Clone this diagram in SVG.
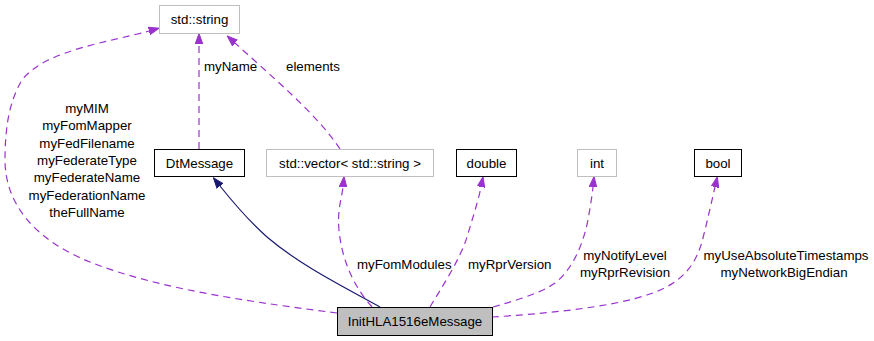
<svg xmlns="http://www.w3.org/2000/svg" width="874" height="341" viewBox="0 0 874 341">
<style>
text{font-family:"Liberation Sans",Arial,sans-serif;font-size:13.3px;fill:#000}
.n{text-anchor:middle}
.box{fill:#fff;stroke:#000;stroke-width:1}
.gbox{fill:#fff;stroke:#bfbfbf;stroke-width:1}
.main{fill:#bfbfbf;stroke:#000;stroke-width:1}
.dep{fill:none;stroke:#9a32cd;stroke-width:1.2;stroke-dasharray:7,5}
.inh{fill:none;stroke:#191970;stroke-width:1.2}
</style>
<defs>
<marker id="ap" markerUnits="userSpaceOnUse" markerWidth="11" markerHeight="9" viewBox="0 -4.5 11 9" refX="0" refY="0" orient="auto"><path d="M0,-3.8 L10.5,0 L0,3.8 z" fill="#9a32cd" stroke="#9a32cd" stroke-width="1"/></marker>
<marker id="an" markerUnits="userSpaceOnUse" markerWidth="11" markerHeight="9" viewBox="0 -4.5 11 9" refX="0" refY="0" orient="auto"><path d="M0,-3.8 L10.5,0 L0,3.8 z" fill="#191970" stroke="#191970" stroke-width="1"/></marker>
</defs>
<g id="connectors">
<path class="dep" marker-end="url(#ap)" d="M337,313 C260,303 160,290 90,262 C30,238 5,200 5,160 C5,125 10,100 22,80 C45,50 110,42 149,31"/>
<path class="dep" marker-end="url(#ap)" d="M199,149 L199,44"/>
<path class="dep" marker-end="url(#ap)" d="M340,149 C318,115 270,75 235,43"/>
<path class="inh" marker-end="url(#an)" d="M380,307 C340,285 300,265 267,237 C250,222 232,201 220,186"/>
<path class="dep" marker-end="url(#ap)" d="M372,307 C355,288 342,262 339,230 C337,210 342,197 343,187"/>
<path class="dep" marker-end="url(#ap)" d="M430,307 C440,290 460,260 467,237 C472,220 478,202 481,187"/>
<path class="dep" marker-end="url(#ap)" d="M493,307 C510,302 540,294 555,283 C572,270 583,245 588,220 C590,208 592,197 593,187"/>
<path class="dep" marker-end="url(#ap)" d="M492,317 C540,314 610,308 650,294 C685,282 697,262 703,238 C708,218 712,200 715,187"/>
<text class="n" x="87" y="113">myMIM</text>
<text class="n" x="87" y="130.3">myFomMapper</text>
<text class="n" x="87" y="147.6">myFedFilename</text>
<text class="n" x="87" y="164.9">myFederateType</text>
<text class="n" x="87" y="182.2">myFederateName</text>
<text class="n" x="87" y="199.5">myFederationName</text>
<text class="n" x="87" y="216.8">theFullName</text>
<text x="204" y="71">myName</text>
<text x="286" y="71">elements</text>
<text x="357" y="269">myFomModules</text>
<text x="468" y="269">myRprVersion</text>
<text class="n" x="625" y="260">myNotifyLevel</text>
<text class="n" x="625" y="276.5">myRprRevision</text>
<text class="n" x="786" y="260">myUseAbsoluteTimestamps</text>
<text class="n" x="784" y="276.5">myNetworkBigEndian</text>
</g>
<g id="std_string"><rect class="gbox" x="159.5" y="5.5" width="80" height="28"/><text class="n" x="199.5" y="24">std::string</text></g>
<g id="DtMessage"><rect class="box" x="154.5" y="149.5" width="90" height="27"/><text class="n" x="199.5" y="167.5">DtMessage</text></g>
<g id="std_vector"><rect class="gbox" x="266.5" y="149.5" width="167" height="27"/><text class="n" x="350" y="167.5">std::vector&lt; std::string &gt;</text></g>
<g id="double"><rect class="box" x="456.5" y="149.5" width="60" height="27"/><text class="n" x="486.5" y="167.5">double</text></g>
<g id="int"><rect class="gbox" x="577.5" y="149.5" width="39" height="27"/><text class="n" x="597" y="167.5">int</text></g>
<g id="bool"><rect class="box" x="694.5" y="149.5" width="47" height="27"/><text class="n" x="718" y="167.5">bool</text></g>
<g id="InitHLA1516eMessage"><rect class="main" x="337.5" y="307.5" width="155" height="28"/><text class="n" x="415" y="326">InitHLA1516eMessage</text></g>
</svg>
